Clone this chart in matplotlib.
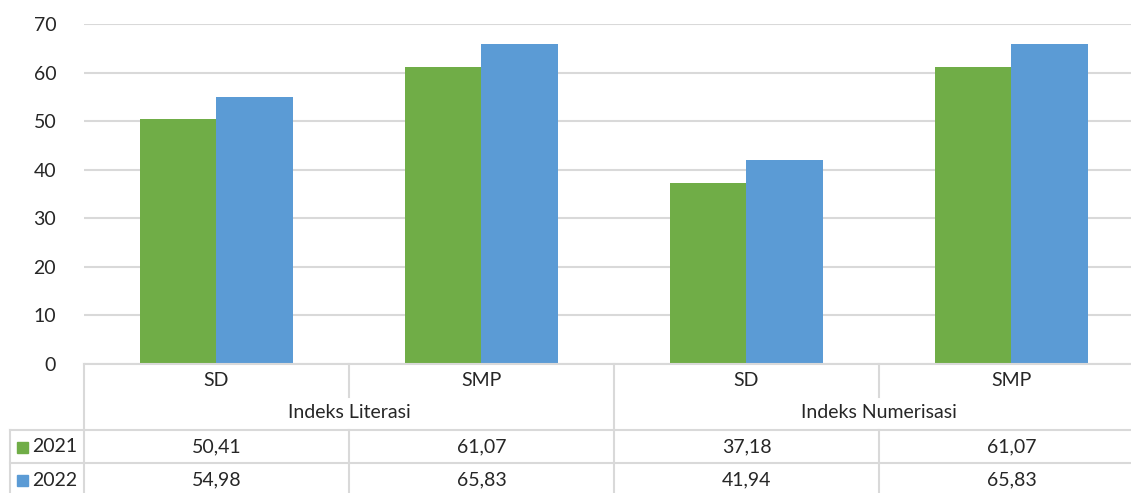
import matplotlib.pyplot as plt
from matplotlib.transforms import blended_transform_factory
from matplotlib.patches import Rectangle

categories = ['SD', 'SMP', 'SD', 'SMP']
groups = ['Indeks Literasi', 'Indeks Numerisasi']
years = ['2021', '2022']
values_2021 = [50.41, 61.07, 37.18, 61.07]
values_2022 = [54.98, 65.83, 41.94, 65.83]
yticks = [0, 10, 20, 30, 40, 50, 60, 70]

GREEN = '#70ad47'
BLUE = '#5b9bd5'
GRID = '#d9d9d9'
TEXT = '#262626'
W, H = 1131, 493

plt.rcParams['font.family'] = ['Lato', 'DejaVu Sans']


def fy(y):
    # pixel row (from top) -> figure fraction
    return 1 - y / H


def fx(x):
    return x / W


fig = plt.figure(figsize=(W / 100, H / 100), dpi=100)
ax = fig.add_axes([fx(84), fy(364), fx(1144 - 84), (364 - 24) / H])

bw = 0.287
xs = range(len(categories))
ax.bar([x - bw / 2 for x in xs], values_2021, bw, color=GREEN, zorder=2)
ax.bar([x + bw / 2 for x in xs], values_2022, bw, color=BLUE, zorder=2)

ax.set_xlim(-0.5, len(categories) - 0.5)
ax.set_ylim(0, 70)
ax.set_yticks(yticks)
ax.set_yticklabels([str(t) for t in yticks], fontsize=14, color=TEXT)
ax.tick_params(axis='y', length=0, pad=20)
ax.set_xticks([])
ax.grid(axis='y', color=GRID, linewidth=1.5, zorder=0)
for s in ax.spines.values():
    s.set_visible(False)

# data table below the plot
tr = blended_transform_factory(ax.transData, fig.transFigure)
lc = dict(color=GRID, linewidth=1.5, clip_on=False)


def vline(x, y0, y1):
    ax.plot([x, x], [fy(y0), fy(y1)], transform=tr, **lc)


def hline(x0, x1, y):
    ax.plot([x0, x1], [fy(y), fy(y)], transform=tr, **lc)


left = -0.5
right = len(categories) - 0.5
xl = left - (84 - 10) / (1060 / 4)  # row header left edge in data units
hline(left, right, 364)
hline(xl, right, 430)
hline(xl, right, 463)
vline(left, 364, 500)
vline(xl, 430, 500)
for b in [0.5, 2.5]:
    vline(b, 364, 397)
    vline(b, 430, 500)
vline(1.5, 364, 500)
vline(right, 364, 500)

fs = 14
for i, c in enumerate(categories):
    ax.text(i, fy(381), c, transform=tr, ha='center', va='center', fontsize=fs, color=TEXT)
for j, g in enumerate(groups):
    ax.text(2 * j + 0.5, fy(412), g, transform=tr, ha='center', va='center', fontsize=fs, color=TEXT)

rows = [(years[0], values_2021, GREEN, 447), (years[1], values_2022, BLUE, 480)]
for label, vals, col, yp in rows:
    fig.patches.append(Rectangle((fx(17), fy(yp + 6)), fx(11), 11 / H, color=col,
                                 transform=fig.transFigure))
    fig.text(fx(32), fy(yp), label, ha='left', va='center', fontsize=fs, color=TEXT)
    for i, v in enumerate(vals):
        ax.text(i, fy(yp), f'{v:.2f}'.replace('.', ','), transform=tr,
                ha='center', va='center', fontsize=fs, color=TEXT)

fig.savefig('out.png', dpi=100)
